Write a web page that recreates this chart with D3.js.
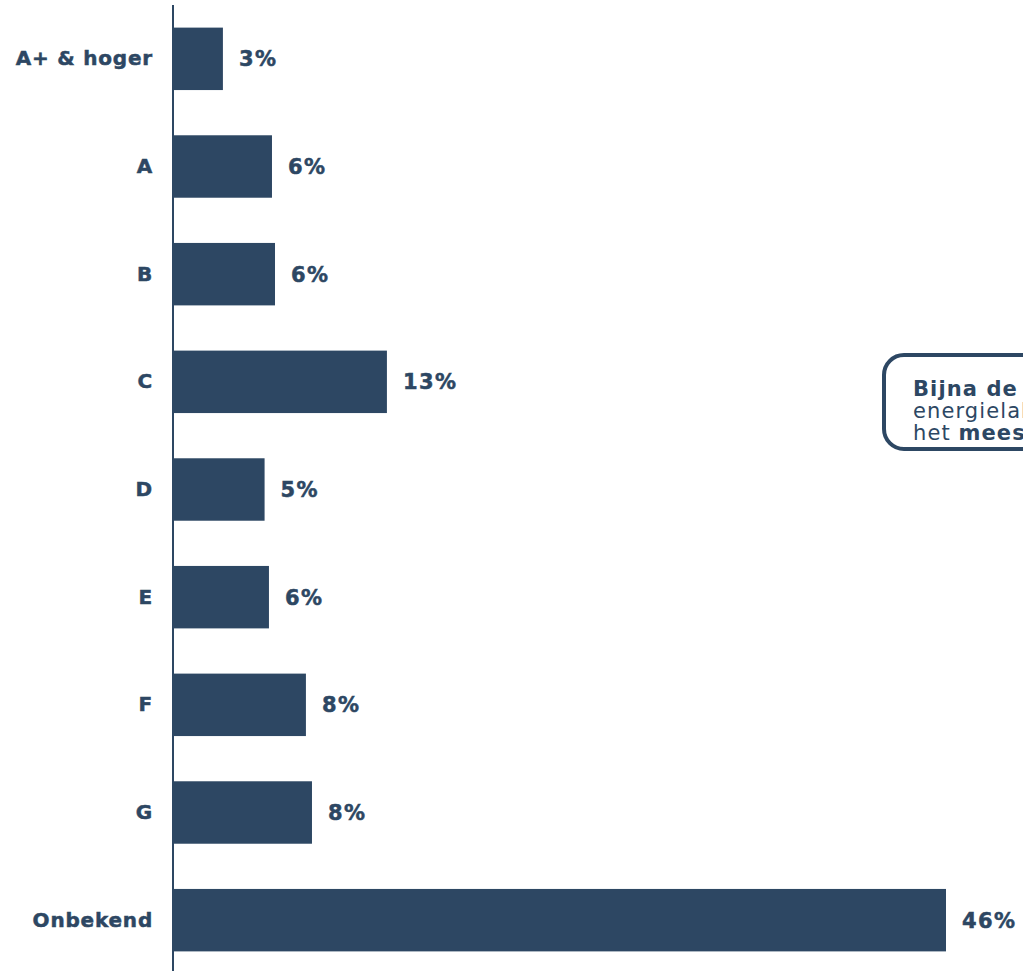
<!DOCTYPE html>
<html><head><meta charset="utf-8">
<script src="https://cdn.jsdelivr.net/npm/d3@7"></script>
<style>html,body{margin:0;padding:0;background:#fff;overflow:hidden}</style>
</head><body>
<svg id="chart" width="1023" height="971"></svg>
<script>
const categories = ["A+ & hoger","A","B","C","D","E","F","G","Onbekend"];
const values = [2.97, 5.89, 6.07, 12.73, 5.45, 5.71, 7.91, 8.27, 46.0];
const noteLines = [
  [{t:"Bijna de helft van de woningen", b:true}],
  [{t:"energielabel onbekend; label C komt", b:false}],
  [{t:"het ", b:false},{t:"meest voor", b:true}]
];
const color = "#2d4763";
const font = "'DejaVu Sans', Verdana, sans-serif";

const svg = d3.select("#chart");
const x = d3.scaleLinear().domain([0, 46]).range([173, 946]);
const y = d3.scaleBand().domain(categories).range([5, 1080-106]).paddingInner(0.42).paddingOuter(0.21);

svg.selectAll("rect.bar").data(categories).join("rect")
  .attr("class","bar")
  .attr("x", x(0))
  .attr("y", d => y(d))
  .attr("width", (d,i) => x(values[i]) - x(0))
  .attr("height", y.bandwidth())
  .attr("fill", color);

svg.selectAll("text.val").data(categories).join("text")
  .attr("class","val")
  .attr("x", (d,i) => x(values[i]) + 16)
  .attr("y", d => y(d) + y.bandwidth()/2)
  .attr("dy","0.35em")
  .attr("font-family", font).attr("font-weight","bold").attr("font-size", 21)
  .attr("letter-spacing", 1.4)
  .attr("fill", color).attr("stroke", color).attr("stroke-width", 0.5)
  .text((d,i) => Math.round(values[i]) + "%");

const yAxis = d3.axisLeft(y).tickSize(0).tickPadding(20);
const g = svg.append("g").attr("transform", `translate(${x(0)},0)`).call(yAxis);
g.select(".domain").remove();
g.selectAll("text").attr("font-family", font).attr("font-weight","bold").attr("font-size", 20)
  .attr("letter-spacing", 0.8).attr("fill", color).attr("stroke", color).attr("stroke-width", 0.5);

svg.append("line").attr("x1", x(0)).attr("x2", x(0)).attr("y1", 5).attr("y2", 971)
  .attr("stroke", color).attr("stroke-width", 2);

// annotation
svg.append("rect").attr("x", 884).attr("y", 355).attr("width", 300).attr("height", 94)
  .attr("rx", 20).attr("fill", "#fff").attr("stroke", color).attr("stroke-width", 4);
const nt = svg.append("text").attr("font-family", font).attr("font-size", 21)
  .attr("letter-spacing", 1.1).attr("fill", color);
noteLines.forEach((line, i) => {
  const tl = nt.append("tspan").attr("x", 913).attr("y", 396 + i*22);
  line.forEach(seg => {
    (seg === line[0] ? tl : nt.append("tspan")).text(seg.t).attr("font-weight", seg.b ? "bold" : "normal");
  });
});
</script>
</body></html>
